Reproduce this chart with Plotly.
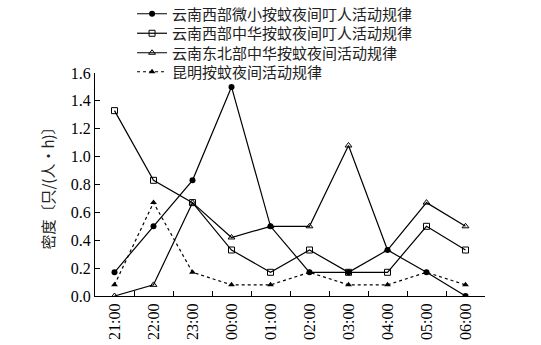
import plotly.graph_objects as go

times = ["21:00", "22:00", "23:00", "00:00", "01:00", "02:00", "03:00", "04:00", "05:00", "06:00"]
names = [
    "云南西部微小按蚊夜间叮人活动规律",
    "云南西部中华按蚊夜间叮人活动规律",
    "云南东北部中华按蚊夜间活动规律",
    "昆明按蚊夜间活动规律",
]
west_minimus = [0.17, 0.50, 0.83, 1.50, 0.50, 0.17, 0.17, 0.33, 0.17, 0.00]
west_sinensis = [1.33, 0.83, 0.67, 0.33, 0.17, 0.33, 0.17, 0.17, 0.50, 0.33]
ne_sinensis = [0.00, 0.08, 0.67, 0.42, 0.50, 0.50, 1.08, 0.33, 0.67, 0.50]
kunming = [0.08, 0.67, 0.17, 0.08, 0.08, 0.17, 0.08, 0.08, 0.17, 0.08]
y_ticks = [0.0, 0.2, 0.4, 0.6, 0.8, 1.0, 1.2, 1.4, 1.6]

FONT = "Liberation Serif, Times New Roman, serif"
CJK = "Noto Sans CJK SC, sans-serif"

series = [
    (west_minimus, dict(symbol="circle", color="black", size=6), "solid"),
    (west_sinensis, dict(symbol="square-open", color="black", size=6, line=dict(width=1)), "solid"),
    (ne_sinensis, dict(symbol="triangle-up-open", color="black", size=6, line=dict(width=1)), "solid"),
    (kunming, dict(symbol="triangle-up", color="black", size=6), "dot"),
]

legend_ids = ["legend", "legend2", "legend3", "legend4"]
legend_y = [14, 33.5, 53, 72]

fig = go.Figure()
for (vals, mk, dash), nm, lg in zip(series, names, legend_ids):
    fig.add_trace(go.Scatter(
        x=times, y=vals, name=nm, mode="lines+markers",
        line=dict(color="black", width=1.2, dash=dash),
        marker=mk, legend=lg,
    ))

layout_legends = {}
for lg, yy in zip(legend_ids, legend_y):
    layout_legends[lg] = dict(
        x=0.095, xanchor="left", y=1 - yy / 345, yanchor="middle", yref="container",
        font=dict(family=CJK, size=15, color="#222"),
        bgcolor="rgba(0,0,0,0)", itemwidth=30,
    )

fig.update_layout(
    width=541, height=345,
    margin=dict(l=95, r=56, t=73, b=49, autoexpand=False),
    paper_bgcolor="white", plot_bgcolor="white",
    font=dict(family=FONT, size=15, color="black"),
    showlegend=True,
    xaxis=dict(
        type="category", range=[-0.5, 9.5],
        showline=True, linecolor="black", linewidth=1.2, mirror=False,
        ticks="inside", tickson="boundaries", ticklen=5, tickcolor="black",
        tickangle=-90, showgrid=False, zeroline=False,
        tickfont=dict(family=FONT, size=16),
    ),
    yaxis=dict(
        range=[0, 1.6], tickvals=y_ticks, ticktext=[f"{v:.1f}" for v in y_ticks],
        showline=True, linecolor="black", linewidth=1.2, mirror=False,
        ticks="inside", ticklen=5, tickcolor="black",
        showgrid=False, zeroline=False,
        tickfont=dict(family=FONT, size=16),
        title=dict(text="密度〔只/(人·h)〕", font=dict(family=CJK, size=15, color="#222"), standoff=12),
    ),
    **layout_legends,
)

fig.write_html("out.html", config={"displayModeBar": False},
               post_script="document.body.style.margin='0';")
